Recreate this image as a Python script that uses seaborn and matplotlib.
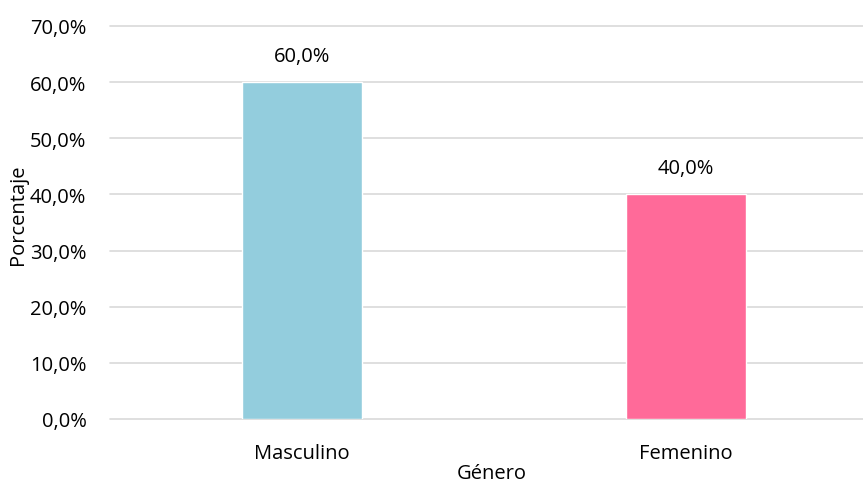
import matplotlib
matplotlib.use("Agg")
import matplotlib.pyplot as plt
import seaborn as sns
import pandas as pd
from matplotlib.ticker import FuncFormatter

categories = ["Masculino", "Femenino"]
values = [60.0, 40.0]
bar_colors = ["#93CDDD", "#FF6A99"]
y_ticks = [0, 10, 20, 30, 40, 50, 60, 70]

sns.set_theme(style="white")
plt.rcParams['font.family'] = ['Open Sans', 'DejaVu Sans']

df = pd.DataFrame({"Género": categories, "Porcentaje": values})

fig = plt.figure(figsize=(8.63, 4.85), dpi=100)
ax = fig.add_axes([110/863, 1-420/485, 768/863, (420-27)/485])

sns.barplot(data=df, x="Género", y="Porcentaje", hue="Género", palette=bar_colors,
            width=0.315, ax=ax, legend=False, saturation=1)

FS = 14.5
ax.set_xlim(-0.5, 1.5)
ax.set_ylim(0, 70)
ax.set_yticks(y_ticks)
ax.yaxis.set_major_formatter(FuncFormatter(lambda v, p: f"{v:.1f}%".replace(".", ",")))
ax.grid(axis="y", color="#D9D9D9", linewidth=1.2)
for gl in ax.get_ygridlines():
    gl.set_clip_on(False)
ax.set_axisbelow(True)
for s in ax.spines.values():
    s.set_visible(False)
ax.tick_params(axis="y", length=0, pad=17, labelsize=FS, labelcolor="#000000")
ax.tick_params(axis="x", length=0, pad=17, labelsize=FS, labelcolor="#000000")

for i, v in enumerate(values):
    ax.annotate(f"{v:.1f}%".replace(".", ","), (i, v), xytext=(0, 19), textcoords="offset points",
                ha="center", va="center", fontsize=FS, color="#000000")

ax.set_xlabel("")
ax.set_ylabel("")
fig.text(492/863, 1-474/485, "Género", ha="center", va="center",
         fontsize=FS, color="#000000")
fig.text(18/863, 1-215/485, "Porcentaje", rotation=90, ha="center", va="center",
         fontsize=FS, color="#000000")

fig.savefig("out.png", dpi=100)
